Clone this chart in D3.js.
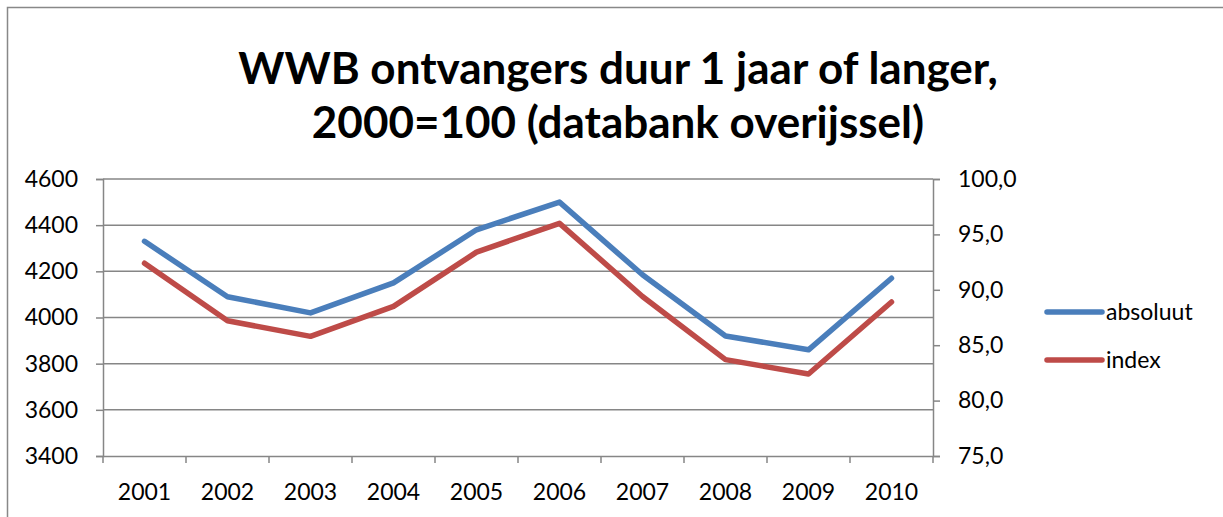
<!DOCTYPE html>
<html>
<head>
<meta charset="utf-8">
<script src="https://cdn.jsdelivr.net/npm/d3@7"></script>
<style>
  body { margin: 0; background: #fff; }
  svg { display: block; font-family: Lato, "Open Sans", sans-serif; }
</style>
</head>
<body>
<svg id="chart" width="1223" height="517"></svg>
<script>
// data
let years = ["2001", "2002", "2003", "2004", "2005", "2006", "2007", "2008", "2009", "2010"];
let absoluut = [4330, 4090, 4020, 4150, 4380, 4500, 4185, 3920, 3860, 4170];
let index = [92.4, 87.2, 85.8, 88.5, 93.4, 96.0, 89.4, 83.7, 82.4, 88.9];
let leftTicks = [3400, 3600, 3800, 4000, 4200, 4400, 4600];
let rightTicks = [75, 80, 85, 90, 95, 100];

// plot area
let margin = {top: 179, left: 103, right: 933, bottom: 456};

let svg = d3.select("#chart");

// outer border
svg.append("rect")
  .attr("x", 7.5).attr("y", 7.5)
  .attr("width", 1240).attr("height", 540)
  .attr("fill", "none").attr("stroke", "#888").attr("stroke-width", 1.5);

// title
let title = svg.append("text")
  .attr("text-anchor", "middle")
  .attr("font-weight", "bold")
  .attr("font-size", 44);
title.append("tspan").attr("x", 618).attr("y", 84).text("WWB ontvangers duur 1 jaar of langer,");
title.append("tspan").attr("x", 618).attr("y", 138).text("2000=100 (databank overijssel)");

// scales
let x = d3.scaleBand()
  .domain(years)
  .range([margin.left, margin.right]);

let yL = d3.scaleLinear()
  .domain([3400, 4600])
  .range([margin.bottom, margin.top]);

let yR = d3.scaleLinear()
  .domain([75, 100])
  .range([margin.bottom, margin.top]);

// gridlines
svg.append("g")
  .selectAll("line")
  .data(leftTicks.slice(1))
  .join("line")
    .attr("x1", margin.left).attr("x2", margin.right)
    .attr("y1", d => yL(d)).attr("y2", d => yL(d))
    .attr("stroke", "#868686").attr("stroke-width", 1.5);

// axes
let gL = svg.append("g")
  .attr("transform", "translate(" + margin.left + ",0)")
  .call(d3.axisLeft(yL).tickValues(leftTicks).tickSize(7).tickPadding(18)
          .tickFormat(d3.format("d")));

let gR = svg.append("g")
  .attr("transform", "translate(" + margin.right + ",0)")
  .call(d3.axisRight(yR).tickValues(rightTicks).tickSize(7).tickPadding(18)
          .tickFormat(d => d3.format(".1f")(d).replace(".", ",")));

let gX = svg.append("g")
  .attr("transform", "translate(0," + margin.bottom + ")")
  .call(d3.axisBottom(x).tickSize(0).tickPadding(28));

// category boundary ticks
svg.append("g")
  .selectAll("line")
  .data(years.concat(["end"]))
  .join("line")
    .attr("x1", (d, i) => margin.left + i * x.step())
    .attr("x2", (d, i) => margin.left + i * x.step())
    .attr("y1", margin.bottom).attr("y2", margin.bottom + 7)
    .attr("stroke", "#868686").attr("stroke-width", 1.5);

[gL, gR, gX].forEach(g => {
  g.select(".domain").attr("stroke", "#868686").attr("stroke-width", 1.5);
  g.selectAll(".tick line").attr("stroke", "#868686").attr("stroke-width", 1.5);
  g.selectAll(".tick text").attr("font-size", 23).attr("fill", "#000")
    .attr("font-family", "Lato, 'Open Sans', sans-serif");
});

// lines
let lineL = d3.line()
  .x((d, i) => x(years[i]) + x.bandwidth() / 2)
  .y(d => yL(d));

let lineR = d3.line()
  .x((d, i) => x(years[i]) + x.bandwidth() / 2)
  .y(d => yR(d));

svg.append("path")
  .datum(absoluut)
  .attr("d", lineL)
  .attr("fill", "none")
  .attr("stroke", "#4a7ebb")
  .attr("stroke-width", 5.5)
  .attr("stroke-linecap", "round")
  .attr("stroke-linejoin", "round");

svg.append("path")
  .datum(index)
  .attr("d", lineR)
  .attr("fill", "none")
  .attr("stroke", "#be4b48")
  .attr("stroke-width", 5.5)
  .attr("stroke-linecap", "round")
  .attr("stroke-linejoin", "round");

// legend
let legend = [
  {name: "absoluut", color: "#4a7ebb", y: 312},
  {name: "index", color: "#be4b48", y: 360}
];

let lg = svg.append("g")
  .selectAll("g")
  .data(legend)
  .join("g")
    .attr("transform", d => "translate(1047," + d.y + ")");

lg.append("line")
  .attr("x1", 0).attr("x2", 55)
  .attr("stroke", d => d.color)
  .attr("stroke-width", 5.5)
  .attr("stroke-linecap", "round");

lg.append("text")
  .attr("x", 59).attr("dy", "0.35em")
  .attr("font-size", 23)
  .text(d => d.name);
</script>
</body>
</html>
